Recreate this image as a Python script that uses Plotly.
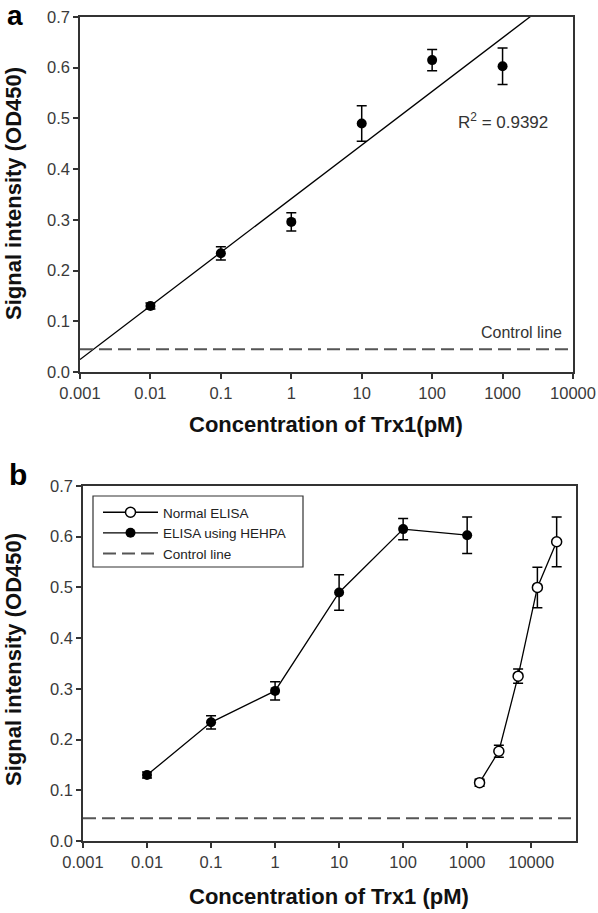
import numpy as np
import plotly.graph_objects as go

# ---------------- data ----------------
conc_hehpa = [0.01, 0.1, 1, 10, 100, 1000]
signal_hehpa = [0.130, 0.234, 0.296, 0.490, 0.615, 0.603]
err_hehpa = [0.006, 0.013, 0.018, 0.035, 0.021, 0.036]

conc_normal = [1562.5, 3125, 6250, 12500, 25000]
signal_normal = [0.115, 0.177, 0.325, 0.500, 0.590]
err_normal = [0.007, 0.012, 0.014, 0.040, 0.049]

control_value = 0.045
r2_label = "R<sup>2</sup> = 0.9392"

x_tick_vals = [0.001, 0.01, 0.1, 1, 10, 100, 1000, 10000]
x_tick_text = ["0.001", "0.01", "0.1", "1", "10", "100", "1000", "10000"]
y_tick_vals = [0.0, 0.1, 0.2, 0.3, 0.4, 0.5, 0.6, 0.7]

xa_range = [-3, 4]        # log10 range panel a
xb_range = [-3, 4.70]     # log10 range panel b

# ---------------- figure ----------------
W, H = 598, 913
FONT = "Liberation Sans, Arial, sans-serif"
AX = "#333333"
DASH = "13px,6px"

def px_x(p):
    return p / W

def px_y(p):
    return 1 - p / H

fig = go.Figure()

# regression fit (panel a)
slope, intercept = np.polyfit(np.log10(conc_hehpa), signal_hehpa, 1)
fit_x = np.logspace(xa_range[0], xa_range[1], 2)
fit_y = intercept + slope * np.log10(fit_x)

fig.add_trace(go.Scatter(
    x=fit_x, y=fit_y, mode="lines", line=dict(color="black", width=1.3),
    xaxis="x", yaxis="y", showlegend=False, hoverinfo="skip"))
fig.add_trace(go.Scatter(
    x=[10 ** xa_range[0], 10 ** xa_range[1]], y=[control_value] * 2,
    mode="lines", line=dict(color="#555", width=2, dash=DASH),
    xaxis="x", yaxis="y", showlegend=False))
fig.add_trace(go.Scatter(
    x=conc_hehpa, y=signal_hehpa, mode="markers",
    marker=dict(color="black", size=10),
    error_y=dict(type="data", array=err_hehpa, width=5, thickness=1.5, color="black"),
    xaxis="x", yaxis="y", showlegend=False))

# panel b
fig.add_trace(go.Scatter(
    x=conc_normal, y=signal_normal, mode="lines+markers", name="Normal ELISA",
    line=dict(color="black", width=1.3),
    marker=dict(color="white", size=10, line=dict(color="black", width=1.5)),
    error_y=dict(type="data", array=err_normal, width=5, thickness=1.5, color="black"),
    xaxis="x2", yaxis="y2"))
fig.add_trace(go.Scatter(
    x=conc_hehpa, y=signal_hehpa, mode="lines+markers", name="ELISA using HEHPA",
    line=dict(color="black", width=1.3),
    marker=dict(color="black", size=10),
    error_y=dict(type="data", array=err_hehpa, width=5, thickness=1.5, color="black"),
    xaxis="x2", yaxis="y2"))
fig.add_trace(go.Scatter(
    x=[10 ** xb_range[0], 10 ** xb_range[1]], y=[control_value] * 2,
    mode="lines", name="Control line",
    line=dict(color="#555", width=2, dash=DASH),
    xaxis="x2", yaxis="y2"))

axis_common = dict(
    showline=True, linecolor=AX, linewidth=1.5, mirror=True,
    ticks="outside", ticklen=5, tickwidth=1.5, tickcolor=AX,
    showgrid=False, zeroline=False, automargin=False,
    tickfont=dict(family=FONT, size=16.5, color="#3a3a3a"),
)

fig.update_layout(
    width=W, height=H, autosize=False,
    margin=dict(l=0, r=0, t=0, b=0, pad=0, autoexpand=False),
    paper_bgcolor="white", plot_bgcolor="white",
    font=dict(family=FONT, color="#222"),
    xaxis=dict(axis_common, type="log", range=xa_range,
               domain=[px_x(80), px_x(573)], anchor="y",
               tickvals=x_tick_vals, ticktext=x_tick_text),
    yaxis=dict(axis_common, range=[0, 0.7], domain=[px_y(372), px_y(17)],
               anchor="x", tickvals=y_tick_vals, tickformat=".1f"),
    xaxis2=dict(axis_common, type="log", range=xb_range,
                domain=[px_x(83), px_x(576)], anchor="y2",
                tickvals=x_tick_vals, ticktext=x_tick_text),
    yaxis2=dict(axis_common, range=[0, 0.7], domain=[px_y(841), px_y(486)],
                anchor="x2", tickvals=y_tick_vals, tickformat=".1f"),
    showlegend=True,
    legend=dict(x=px_x(98), y=px_y(497), xanchor="left", yanchor="top",
                bgcolor="rgba(0,0,0,0)", borderwidth=0, itemwidth=55,
                font=dict(family=FONT, size=13.5, color="#222"),
                tracegroupgap=0),
)

# legend box
fig.add_shape(type="rect", xref="paper", yref="paper",
              x0=px_x(93), x1=px_x(303), y0=px_y(567), y1=px_y(496),
              line=dict(color=AX, width=1.2), fillcolor="rgba(0,0,0,0)")

ann = []
title_font = dict(family=FONT, size=22, color="#111")

def add_text(text, x, y, font, angle=0, xanchor="center"):
    ann.append(dict(text=text, x=px_x(x), y=px_y(y), xref="paper", yref="paper",
                    xanchor=xanchor, yanchor="middle", showarrow=False,
                    textangle=angle, font=font))

# panel labels
add_text("<b>a</b>", 15, 15.5, dict(family=FONT, size=28, color="black"))
add_text("<b>b</b>", 18, 474, dict(family=FONT, size=30, color="black"))
# axis titles
add_text("<b>Concentration of Trx1(pM)</b>", 326, 424, title_font)
add_text("<b>Signal intensity (OD450)</b>", 13, 194, title_font, angle=-90)
add_text("<b>Concentration of Trx1 (pM)</b>", 329, 896, title_font)
add_text("<b>Signal intensity (OD450)</b>", 13, 660, title_font, angle=-90)
# in-plot labels
add_text(r2_label, 503, 121, dict(family=FONT, size=17, color="#333"))
add_text("Control line", 564, 332, dict(family=FONT, size=16, color="#333"), xanchor="right")
fig.update_layout(annotations=ann)

page_fix = ("document.documentElement.style.margin='0';"
            "document.body.style.margin='0';"
            "document.body.style.overflow='hidden';")
fig.write_html("out.html", post_script=page_fix,
               config={"displayModeBar": False})
